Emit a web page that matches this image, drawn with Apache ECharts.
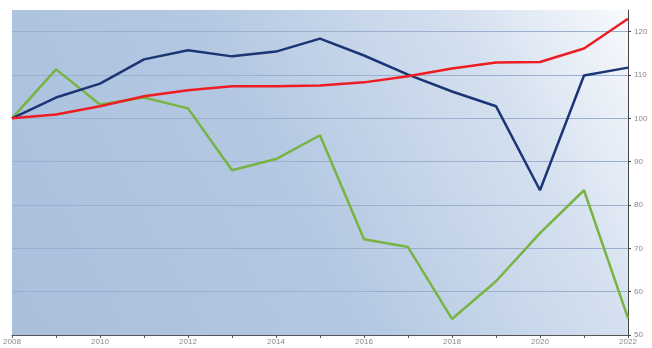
<!DOCTYPE html>
<html><head><meta charset="utf-8">
<script src="https://cdn.jsdelivr.net/npm/echarts@6/dist/echarts.min.js"></script>
<style>html,body{margin:0;padding:0;background:#fff}#c{width:652px;height:348px}</style>
</head><body><div id="c"></div>
<script>
const years = ['2008','2009','2010','2011','2012','2013','2014','2015','2016','2017','2018','2019','2020','2021','2022'];
const navySeries = [100,104.8,108,113.6,115.7,114.3,115.4,118.4,114.5,110.1,106.2,102.8,83.4,109.9,111.7];
const redSeries = [100,100.9,102.8,105.1,106.5,107.4,107.4,107.6,108.3,109.7,111.5,112.9,113.0,116.1,123.0];
const greenSeries = [100,111.3,103.2,104.8,102.3,88.0,90.6,96.1,72.1,70.3,53.7,62.4,73.5,83.4,53.9];

const chart = echarts.init(document.getElementById('c'));
chart.setOption({
  animation: false,
  grid: {
    left: 12, right: 24, top: 10, bottom: 13, show: true, borderWidth: 0,
    backgroundColor: new echarts.graphic.LinearGradient(0, 1, 1, 0, [
      {offset: 0, color: '#a9bfdc'},
      {offset: 0.45, color: '#b4c8e2'},
      {offset: 0.78, color: '#d4e0ef'},
      {offset: 1, color: '#f8fafd'}
    ])
  },
  xAxis: {
    type: 'category', data: years, boundaryGap: false,
    axisLine: {lineStyle: {color: '#555', width: 1}},
    axisTick: {show: true, interval: 0, length: 3, lineStyle: {color: '#555'}},
    axisLabel: {interval: 1, color: '#888', fontSize: 8, margin: 3, fontFamily: 'Liberation Sans'},
    splitLine: {show: false}
  },
  yAxis: {
    type: 'value', position: 'right', min: 50, max: 125, interval: 10,
    axisLine: {show: true, lineStyle: {color: '#444', width: 1}},
    axisTick: {show: true, length: 3, lineStyle: {color: '#444'}},
    axisLabel: {color: '#888', fontSize: 8, margin: 6, showMaxLabel: false, fontFamily: 'Liberation Sans'},
    splitLine: {show: true, showMaxLine: false, lineStyle: {color: '#9bb0cf', width: 1}}
  },
  series: [
    {type: 'line', data: greenSeries, symbol: 'none', lineStyle: {color: '#78b443', width: 2.5}, z: 2},
    {type: 'line', data: navySeries, symbol: 'none', lineStyle: {color: '#1c3576', width: 2.5}, z: 3},
    {type: 'line', data: redSeries, symbol: 'none', lineStyle: {color: '#ee1d24', width: 2.5}, z: 4}
  ]
});
</script></body></html>
